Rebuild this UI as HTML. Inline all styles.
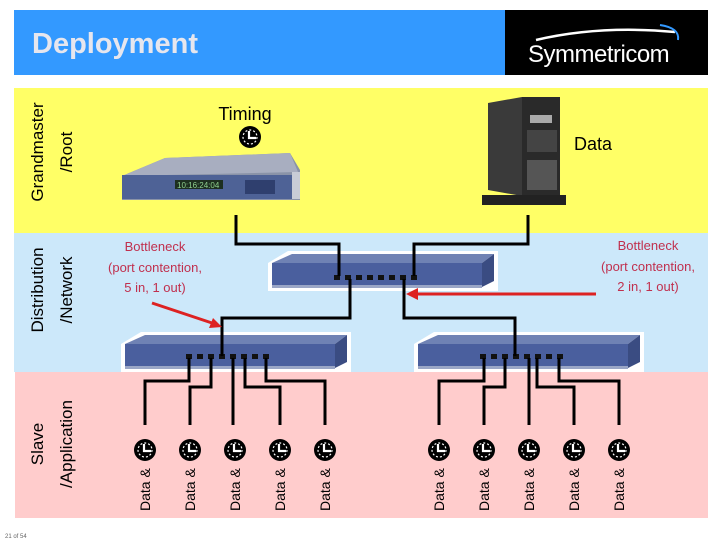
<!DOCTYPE html>
<html><head><meta charset="utf-8"><style>
body{margin:0;width:720px;height:540px;background:#fff;overflow:hidden;font-family:"Liberation Sans",sans-serif}
</style></head><body>
<svg width="720" height="540" viewBox="0 0 720 540" xmlns="http://www.w3.org/2000/svg" font-family="Liberation Sans, sans-serif">
<defs>
<g id="clk"><circle r="11" fill="#000"/><circle r="7" fill="none" stroke="#fff" stroke-width="1.2" stroke-dasharray="2 2"/><path d="M-1,-6 V1 H6" stroke="#fff" stroke-width="2.2" fill="none"/></g>
<g id="sw">
<path d="M0,12 L20,0 L230,0 L230,40 L0,40 Z" fill="#fff"/>
<path d="M4,12 L24,3 L226,3 L214,12 Z" fill="#6f82b4"/>
<rect x="4" y="12" width="210" height="24" fill="#4a5f9e"/>
<path d="M214,12 L226,3 L226,30 L214,36 Z" fill="#3a4c82"/>
<rect x="4" y="34" width="210" height="3" fill="#9aa6c6"/>
</g>
<g id="ports"><rect x="0" y="0" width="6" height="5" fill="#111"/><rect x="11" y="0" width="6" height="5" fill="#111"/><rect x="22" y="0" width="6" height="5" fill="#111"/><rect x="33" y="0" width="6" height="5" fill="#111"/><rect x="44" y="0" width="6" height="5" fill="#111"/><rect x="55" y="0" width="6" height="5" fill="#111"/><rect x="66" y="0" width="6" height="5" fill="#111"/><rect x="77" y="0" width="6" height="5" fill="#111"/></g>
</defs>
<rect x="14" y="10" width="491" height="65" fill="#3399ff"/>
<rect x="505" y="10" width="203" height="65" fill="#000"/>
<text x="32" y="53" font-size="29" font-weight="bold" fill="#e6e6ee">Deployment</text>
<text x="528" y="62" font-size="24" fill="#fff" letter-spacing="-0.5">Symmetricom</text>
<path d="M536,40 Q600,25 675,32" stroke="#fff" stroke-width="2.5" fill="none"/>
<path d="M660,25 Q680,28 678,40" stroke="#3399ff" stroke-width="2" fill="none"/>
<rect x="14" y="88" width="694" height="145" fill="#ffff66"/>
<rect x="14" y="233" width="694" height="139" fill="#cce8fa"/>
<rect x="15" y="372" width="693" height="146" fill="#ffcccc"/>
<g font-size="17" fill="#000" text-anchor="middle">
<text transform="translate(43,152) rotate(-90)">Grandmaster</text>
<text transform="translate(72,152) rotate(-90)">/Root</text>
<text transform="translate(43,290) rotate(-90)">Distribution</text>
<text transform="translate(72,290) rotate(-90)">/Network</text>
<text transform="translate(43,444) rotate(-90)">Slave</text>
<text transform="translate(72,444) rotate(-90)">/Application</text>
</g>
<text x="245" y="120" font-size="18" text-anchor="middle">Timing</text>
<use href="#clk" x="250" y="137"/>
<text x="574" y="150" font-size="18">Data</text>
<!-- timing device -->
<path d="M122,176 L165,158 L290,153 L300,170 L300,200 L122,200 Z" fill="#8a93a8"/>
<path d="M122,176 L165,158 L290,153 L298,172 Z" fill="#a8aec0"/>
<rect x="122" y="175" width="170" height="24" fill="#4e6296"/>
<rect x="292" y="172" width="8" height="27" fill="#c8ccd6"/>
<rect x="175" y="180" width="48" height="9" fill="#1d2f20"/>
<text x="177" y="188" font-size="8" fill="#8fd08f">10:16:24:04</text>
<rect x="245" y="180" width="30" height="14" fill="#2f3f6e"/>
<!-- server -->
<path d="M488,103 L522,97 L522,196 L488,190 Z" fill="#3a3a3a"/>
<rect x="522" y="97" width="38" height="100" fill="#2a2a2a"/>
<rect x="530" y="115" width="22" height="8" fill="#aaa"/>
<rect x="527" y="130" width="30" height="22" fill="#444"/>
<rect x="527" y="160" width="30" height="30" fill="#555"/>
<rect x="482" y="195" width="84" height="10" fill="#222"/>
<!-- switches -->
<use href="#sw" x="268" y="251"/>
<use href="#ports" x="334" y="275"/>
<use href="#sw" x="121" y="332"/>
<use href="#ports" x="186" y="354"/>
<use href="#sw" x="414" y="332"/>
<use href="#ports" x="480" y="354"/>
<g stroke="#000" stroke-width="3" fill="none">
<path d="M236,215 V244 H339 V276"/>
<path d="M528,215 V244 H414 V276"/>
<path d="M350,279 V318 H222 V356"/>
<path d="M404,279 V318 H515 V356"/>
<path d="M189,358 V381 H145 V425"/>
<path d="M211,358 V387 H190 V425"/>
<path d="M233,358 V425"/>
<path d="M245,358 V387 H280 V425"/>
<path d="M266,358 V381 H325 V425"/>
<path d="M484,358 V381 H439 V425"/>
<path d="M505,358 V387 H484 V425"/>
<path d="M529,358 V425"/>
<path d="M537,358 V387 H574 V425"/>
<path d="M559,358 V381 H619 V425"/>
</g>
<g stroke="#dd2222" stroke-width="3" fill="#dd2222">
<line x1="152" y1="303" x2="212" y2="323"/>
<polygon points="222,327 209,328 213,318" stroke="none"/>
<line x1="596" y1="294" x2="416" y2="294"/>
<polygon points="406,294 418,288 418,300" stroke="none"/>
</g>
<g font-size="13" fill="#c0304e" text-anchor="middle">
<text x="155" y="251">Bottleneck</text>
<text x="155" y="272">(port contention,</text>
<text x="155" y="292">5 in, 1 out)</text>
<text x="648" y="250">Bottleneck</text>
<text x="648" y="271">(port contention,</text>
<text x="648" y="291">2 in, 1 out)</text>
</g>
<g>
<use href="#clk" x="145" y="450"/><use href="#clk" x="190" y="450"/><use href="#clk" x="235" y="450"/><use href="#clk" x="280" y="450"/><use href="#clk" x="325" y="450"/>
<use href="#clk" x="439" y="450"/><use href="#clk" x="484" y="450"/><use href="#clk" x="529" y="450"/><use href="#clk" x="574" y="450"/><use href="#clk" x="619" y="450"/>
</g>
<g font-size="14" fill="#000">
<text transform="translate(150,511) rotate(-90)">Data &amp;</text>
<text transform="translate(195,511) rotate(-90)">Data &amp;</text>
<text transform="translate(240,511) rotate(-90)">Data &amp;</text>
<text transform="translate(285,511) rotate(-90)">Data &amp;</text>
<text transform="translate(330,511) rotate(-90)">Data &amp;</text>
<text transform="translate(444,511) rotate(-90)">Data &amp;</text>
<text transform="translate(489,511) rotate(-90)">Data &amp;</text>
<text transform="translate(534,511) rotate(-90)">Data &amp;</text>
<text transform="translate(579,511) rotate(-90)">Data &amp;</text>
<text transform="translate(624,511) rotate(-90)">Data &amp;</text>
</g>
<text x="5" y="538" font-size="6" fill="#666">21 of 54</text>
</svg>
</body></html>
